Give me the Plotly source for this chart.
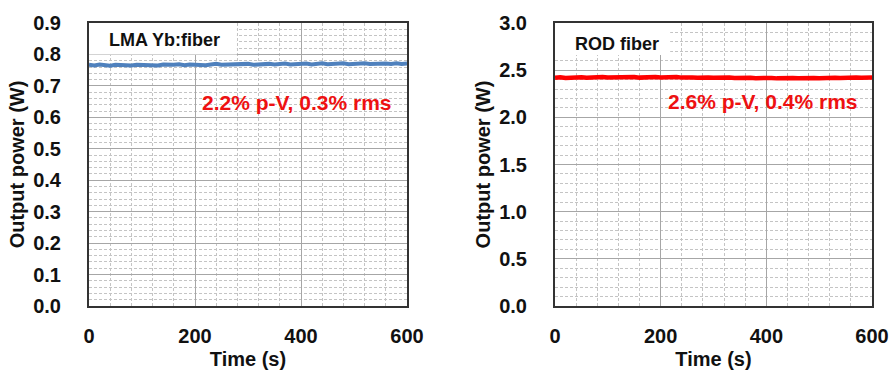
import plotly.graph_objects as go

time_s = list(range(0, 601, 10))

lma_power_w = [
    0.767, 0.765, 0.768, 0.766, 0.764, 0.767, 0.766, 0.768, 0.765, 0.767,
    0.766, 0.768, 0.767, 0.765, 0.768, 0.766, 0.767, 0.769, 0.766, 0.768,
    0.767, 0.769, 0.766, 0.768, 0.770, 0.767, 0.768, 0.766, 0.769, 0.768,
    0.770, 0.767, 0.769, 0.768, 0.770, 0.768, 0.769, 0.771, 0.768, 0.770,
    0.769, 0.771, 0.768, 0.770, 0.772, 0.769, 0.771, 0.770, 0.772, 0.769,
    0.771, 0.770, 0.772, 0.770, 0.771, 0.769, 0.771, 0.770, 0.772, 0.770, 0.771,
]

rod_power_w = [
    2.420, 2.425, 2.418, 2.423, 2.420, 2.426, 2.419, 2.424, 2.421, 2.427,
    2.422, 2.425, 2.420, 2.426, 2.423, 2.428, 2.421, 2.425, 2.423, 2.427,
    2.422, 2.426, 2.424, 2.428, 2.421, 2.425, 2.423, 2.420, 2.424, 2.421,
    2.419, 2.423, 2.418, 2.422, 2.417, 2.421, 2.416, 2.420, 2.415, 2.419,
    2.414, 2.418, 2.413, 2.417, 2.412, 2.416, 2.413, 2.417, 2.412, 2.416,
    2.414, 2.418, 2.415, 2.419, 2.416, 2.420, 2.417, 2.421, 2.419, 2.423, 2.421,
]

lma_label = "LMA Yb:fiber"
rod_label = "ROD fiber"
lma_stats = "2.2% p-V, 0.3% rms"
rod_stats = "2.6% p-V, 0.4% rms"

FONT = "Liberation Sans, Arial, sans-serif"
W, H = 893, 370


def px_x(a, b):
    return [a / W, b / W]


def px_y(top, bottom):
    return [(H - bottom) / H, (H - top) / H]


fig = go.Figure()
fig.add_trace(go.Scatter(x=time_s, y=lma_power_w, mode="lines",
                         line=dict(color="#4f81bd", width=4), xaxis="x", yaxis="y",
                         showlegend=False))
fig.add_trace(go.Scatter(x=time_s, y=rod_power_w, mode="lines",
                         line=dict(color="#ff0000", width=4.5), xaxis="x2", yaxis="y2",
                         showlegend=False))

tickfont = dict(family=FONT, size=20, color="#111", weight="bold")
titlefont = dict(family=FONT, size=20, color="#111", weight="bold")
MINOR_DASH = "3px,2px"

common_x = dict(range=[0, 600], dtick=200, tick0=0, showgrid=True, gridcolor="#a6a6a6",
                gridwidth=1, zeroline=False, showline=True, linecolor="#333", linewidth=2,
                mirror=True, ticks="", tickfont=tickfont, ticklabelstandoff=11,
                automargin=False,
                minor=dict(dtick=40, tick0=0, showgrid=True, gridcolor="#c4c4c4",
                           griddash=MINOR_DASH, gridwidth=1),
                title=dict(text="Time (s)", font=titlefont, standoff=11),
                fixedrange=True)
common_y = dict(showgrid=True, gridcolor="#a6a6a6", gridwidth=1, zeroline=False,
                showline=True, linecolor="#333", linewidth=2, mirror=True, ticks="",
                tickfont=tickfont, ticklabelstandoff=22, fixedrange=True,
                automargin=False,
                title=dict(text="Output power (W)", font=titlefont, standoff=3))

fig.update_layout(
    width=W, height=H,
    margin=dict(l=0, r=0, t=0, b=0, autoexpand=False),
    paper_bgcolor="white", plot_bgcolor="white",
    xaxis=dict(domain=px_x(89, 407), anchor="y", **common_x),
    yaxis=dict(domain=px_y(23, 306), anchor="x", range=[0, 0.9], dtick=0.1,
               tickformat=".1f",
               minor=dict(dtick=0.02, tick0=0, showgrid=True, gridcolor="#c4c4c4",
                          griddash=MINOR_DASH, gridwidth=1),
               **common_y),
    xaxis2=dict(domain=px_x(555, 872), anchor="y2", **common_x),
    yaxis2=dict(domain=px_y(23, 306), anchor="x2", range=[0, 3.0], dtick=0.5,
                tickformat=".1f",
                minor=dict(dtick=0.1, tick0=0, showgrid=True, gridcolor="#c4c4c4",
                           griddash=MINOR_DASH, gridwidth=1),
                **common_y),
    shapes=[
        dict(type="rect", xref="x", yref="y", x0=0, x1=279, y0=0.80, y1=0.9,
             fillcolor="white", line=dict(width=0), layer="between"),
        dict(type="rect", xref="x2", yref="y2", x0=0, x1=218, y0=2.66, y1=3.0,
             fillcolor="white", line=dict(width=0), layer="between"),
    ],
    annotations=[
        dict(text=lma_label, xref="x", yref="y", x=34, y=0.847, xanchor="left",
             yanchor="middle", showarrow=False,
             font=dict(family=FONT, size=18, color="#111", weight="bold")),
        dict(text=lma_stats, xref="x", yref="y", x=210, y=0.648, xanchor="left",
             yanchor="middle", showarrow=False,
             font=dict(family=FONT, size=21, color="#ee1111", weight="bold")),
        dict(text=rod_label, xref="x2", yref="y2", x=35, y=2.78, xanchor="left",
             yanchor="middle", showarrow=False,
             font=dict(family=FONT, size=18, color="#111", weight="bold")),
        dict(text=rod_stats, xref="x2", yref="y2", x=210, y=2.17, xanchor="left",
             yanchor="middle", showarrow=False,
             font=dict(family=FONT, size=21, color="#ee1111", weight="bold")),
    ],
)

fig.write_html(
    "out.html",
    config={"displayModeBar": False, "staticPlot": True},
    post_script="document.body.style.margin='0';document.body.style.overflow='hidden';",
)
